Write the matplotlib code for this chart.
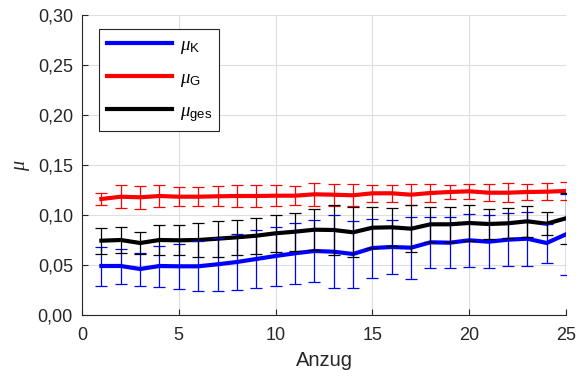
import numpy as np
import matplotlib
matplotlib.use("Agg")
import matplotlib.pyplot as plt
from matplotlib.ticker import FuncFormatter

plt.rcParams['font.family'] = ['Liberation Sans', 'DejaVu Sans']
plt.rcParams['mathtext.fontset'] = 'custom'
plt.rcParams['mathtext.rm'] = 'Liberation Sans'
plt.rcParams['mathtext.it'] = 'Liberation Serif:italic'

anzug = np.arange(1, 26)

# Mittelwerte
mu_K = [0.049, 0.049, 0.046, 0.049, 0.0487, 0.0487, 0.0507, 0.053, 0.056, 0.059,
        0.0617, 0.064, 0.0633, 0.061, 0.067, 0.068, 0.0673, 0.0727, 0.0723, 0.0747,
        0.0733, 0.0753, 0.0763, 0.072, 0.0807]
mu_G = [0.116, 0.1183, 0.1177, 0.119, 0.1183, 0.1183, 0.1187, 0.119, 0.119, 0.1193,
        0.1193, 0.1207, 0.1203, 0.1197, 0.1217, 0.1217, 0.1203, 0.122, 0.123, 0.1237,
        0.1223, 0.1223, 0.123, 0.1233, 0.124]
mu_ges = [0.0743, 0.075, 0.072, 0.075, 0.0747, 0.075, 0.0763, 0.0777, 0.0793, 0.0817,
          0.0833, 0.0853, 0.085, 0.0827, 0.0873, 0.0877, 0.0863, 0.0907, 0.0907, 0.092,
          0.091, 0.0917, 0.0937, 0.0913, 0.0967]

# Standardabweichungen
sd_K = [0.0195, 0.0175, 0.0165, 0.0205, 0.0227, 0.025, 0.0267, 0.028, 0.0287, 0.0295,
        0.0303, 0.0313, 0.0365, 0.0335, 0.0295, 0.0273, 0.031, 0.0253, 0.0253, 0.0265,
        0.0263, 0.0265, 0.027, 0.0195, 0.0405]
sd_G = [0.006, 0.0113, 0.0115, 0.0107, 0.0095, 0.0095, 0.01, 0.0107, 0.0107, 0.0107,
        0.0095, 0.0113, 0.011, 0.011, 0.0087, 0.0085, 0.0103, 0.009, 0.0073, 0.0073,
        0.0083, 0.0093, 0.0083, 0.0083, 0.0088]
sd_ges = [0.0128, 0.013, 0.0108, 0.015, 0.015, 0.017, 0.018, 0.0175, 0.018, 0.0185,
          0.0188, 0.0207, 0.025, 0.025, 0.0207, 0.019, 0.0233, 0.0178, 0.0178, 0.0177,
          0.015, 0.015, 0.0153, 0.0113, 0.0255]

fig = plt.figure(figsize=(5.82, 3.76), dpi=100)
ax = fig.add_axes([82/582, 1-315/376, 484/582, 300/376])

series = [(mu_K, sd_K, 'b', r'$\mu_{\rm K}$'),
          (mu_G, sd_G, 'r', r'$\mu_{\rm G}$'),
          (mu_ges, sd_ges, 'k', r'$\mu_{\rm ges}$')]

for m, s, c, lab in series:
    ax.plot(anzug, m, color=c, lw=3, label=lab, zorder=3)
for m, s, c, lab in series:
    ax.errorbar(anzug, m, yerr=s, fmt='none', ecolor=c, elinewidth=0.9,
                capsize=4.5, capthick=0.9, zorder=4)

ax.set_xlim(0, 25)
ax.set_ylim(0, 0.30)
ax.set_xticks([0, 5, 10, 15, 20, 25])
ax.set_yticks(np.arange(0, 0.301, 0.05))
ax.yaxis.set_major_formatter(FuncFormatter(lambda v, p: f'{v:.2f}'.replace('.', ',')))
ax.tick_params(direction='in', length=4, labelsize=13, colors='#262626')
ax.tick_params(axis='x', pad=9)
ax.tick_params(axis='y', pad=6.5)
ax.grid(True, color='#dedede', lw=0.8)
ax.set_axisbelow(True)
for sp in ['top', 'right']:
    ax.spines[sp].set_visible(False)
for sp in ['left', 'bottom']:
    ax.spines[sp].set_color('#262626')

ax.set_xlabel('Anzug', fontsize=14.5, color='#262626', labelpad=5)
ax.set_ylabel(r'$\mu$', fontsize=14.5, color='#262626', labelpad=4)

leg = ax.legend(loc='upper left', bbox_to_anchor=(17/484, 1-14/300), borderaxespad=0,
                fontsize=13.5, handlelength=3.5, handletextpad=0.4, labelspacing=0.75,
                fancybox=False, edgecolor='#262626', framealpha=1)
leg.get_frame().set_linewidth(0.8)

fig.savefig('out.png', dpi=100)
